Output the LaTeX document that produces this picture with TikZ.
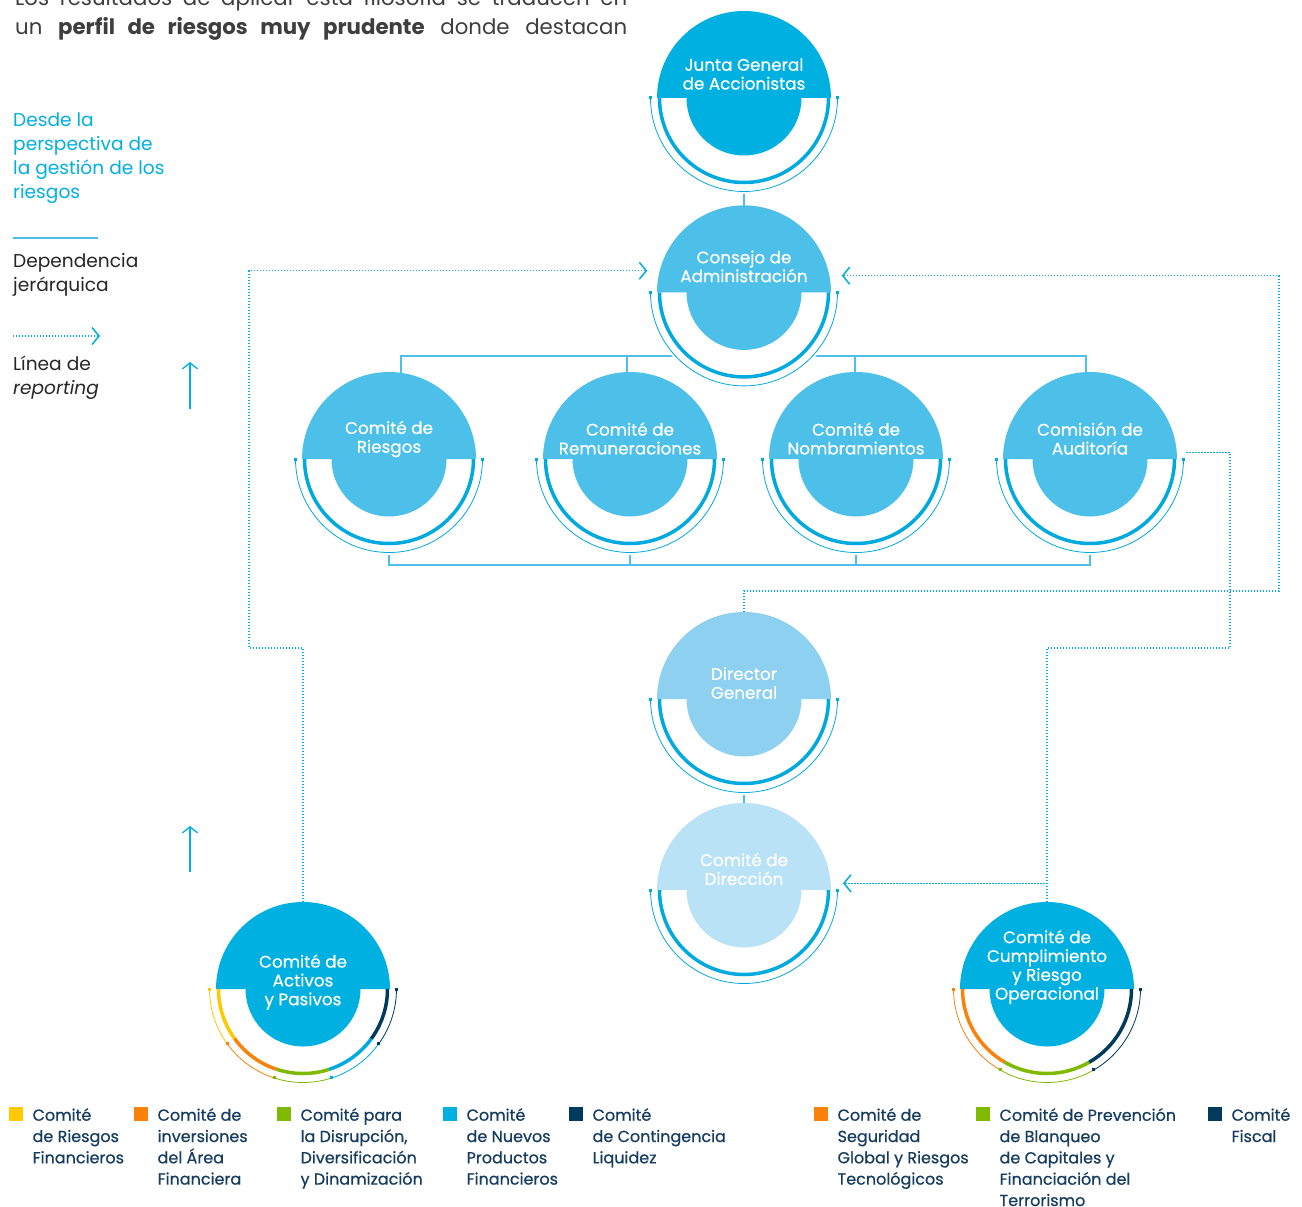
\documentclass[tikz,border=0pt]{standalone}
\usepackage{fontspec}
\setmainfont{Poppins}
\newfontfamily\poppinsmedio[FakeBold=0.6]{Poppins}
\usetikzlibrary{positioning,
	arrows.meta,
	backgrounds}

\definecolor{juntablue}{RGB}{0,176,224}
\definecolor{consejoblue}{RGB}{76,192,232}
\definecolor{directorblue}{RGB}{141,208,239}
\definecolor{direccionblue}{RGB}{185,226,246}
\definecolor{arcblue}{RGB}{0,170,222}
\definecolor{riskyellow}{RGB}{255,200,0}
\definecolor{riskorange}{RGB}{250,130,10}
\definecolor{riskgreen}{RGB}{128,186,0}
\definecolor{risknavy}{RGB}{0,58,92}
\definecolor{legendtext}{RGB}{22,60,95}
\definecolor{headgray}{RGB}{62,62,62}

% arcos inferiores de cada comite: paso angular y lista de colores
\newcommand{\arcoscolores}[2]{%
	\foreach \col [count=\i] in {#2}{%
		\pgfmathsetmacro{\aini}{180+#1*(\i-1)}%
		\pgfmathsetmacro{\afin}{180+#1*\i}%
		\draw[\col, line width=3.5pt] (\aini:84.5) arc[start angle=\aini, end angle=\afin, radius=84.5];
		\draw[\col, line width=0.8pt] (\aini:93.5) arc[start angle=\aini, end angle=\afin, radius=93.5];
		\fill[\col] (\aini:93.5) ++(-1.5,-1.5) rectangle ++(3,3);
		\fill[\col] (\afin:93.5) ++(-1.5,-1.5) rectangle ++(3,3);
	}%
}

\tikzset{
	comite/.style 2 args={circle, minimum size=192pt, inner sep=0pt,
		path picture={
			\begin{scope}[x=1pt, y=1pt, shift={(path picture bounding box.center)}]
				\fill[white] (-100,0) rectangle (100,-100);
				\fill[#1] (87,0) arc[start angle=0, end angle=180, radius=87] -- cycle;
				\fill[#1] (0,0) circle[radius=57.5];
				#2
			\end{scope}}},
	orgtexto/.style={text=white, align=center, inner sep=0pt, font=\poppinsmedio\fontsize{16.8}{18.8}\selectfont},
	jerarquia/.style={draw=consejoblue, line width=1.3pt},
	reporte/.style={draw=juntablue, line width=1.4pt, dash pattern=on 1.4pt off 1.6pt},
	flecha/.style={-{Straight Barb[length=7pt, width=17pt, line width=1.5pt]}},
	subida/.style={draw=juntablue, line width=1.3pt, -{Straight Barb[length=6pt, width=15pt]}},
	cabecera/.style={anchor=base west, inner sep=0pt, text=headgray, font=\fontsize{21.3}{25}\selectfont},
	leyizq/.style={anchor=north west, align=left, inner sep=0pt, font=\fontsize{18.6}{24}\selectfont},
	cuadro/.style={fill=#1, minimum size=14pt, inner sep=0pt, anchor=north west},
	leyenda/.style={anchor=north west, align=left, inner sep=0pt, yshift=-1pt, text=legendtext, font=\poppinsmedio\fontsize{16}{21.3}\selectfont},
}

\begin{document}
\begin{tikzpicture}[x=1pt, y=1pt]
	\useasboundingbox (0,0) rectangle (1302,-1207);

	% texto de cabecera (cortado arriba)
	\node[cabecera] (linea1) at (15,-6) {\makebox[612pt][s]{Los resultados de aplicar esta filosofía se traducen en}};
	\node[cabecera] (linea2) at (15,-35) {\makebox[612pt][s]{un \textbf{perfil de riesgos muy prudente} donde destacan}};

	% leyenda izquierda
	\node[leyizq, text=juntablue] (perspectiva) at (13,-113) {Desde la\\perspectiva de\\la gestión de los\\riesgos};
	\coordinate (dep a) at (13,-238);
	\coordinate (dep b) at (98,-238);
	\draw[jerarquia] (dep a) -- (dep b);
	\node[leyizq, text=black!85] (dependencia) at (13,-253) {Dependencia\\jerárquica};
	\coordinate (rep a) at (13,-336);
	\coordinate (rep b) at (100,-336);
	\draw[reporte, flecha] (rep a) -- (rep b);
	\node[leyizq, text=black!85] (reporting) at (13,-356) {Línea de\\\textit{reporting}};
	\coordinate (sube a) at (190,-409);
	\coordinate (sube b) at (190,-362);
	\coordinate (sube c) at (190,-872);
	\coordinate (sube d) at (190,-826);
	\draw[subida] (sube a) -- (sube b);
	\draw[subida] (sube c) -- (sube d);

	% organos
	\node[comite={juntablue}{\arcoscolores{180}{arcblue}},
		label={[orgtexto, yshift=24pt]center:{Junta General\\de Accionistas}}] (junta) at (744,-98) {};
	\node[comite={consejoblue}{\arcoscolores{180}{arcblue}}, below=2pt of junta,
		label={[orgtexto, yshift=26pt]center:{Consejo de\\Administración}}] (consejo) {};
	\node[comite={consejoblue}{\arcoscolores{180}{arcblue}},
		label={[orgtexto, yshift=20pt]center:{Comité de\\Riesgos}}] (riesgos) at (389,-459) {};
	\node[comite={consejoblue}{\arcoscolores{180}{arcblue}},
		label={[orgtexto, yshift=20.5pt]center:{Comité de\\Remuneraciones}}] (remuneraciones) at (630,-459) {};
	\node[comite={consejoblue}{\arcoscolores{180}{arcblue}},
		label={[orgtexto, yshift=20.5pt]center:{Comité de\\Nombramientos}}] (nombramientos) at (856,-459) {};
	\node[comite={consejoblue}{\arcoscolores{180}{arcblue}},
		label={[orgtexto, yshift=20.5pt]center:{Comisión de\\Auditoría}}] (auditoria) at (1090,-459) {};
	\node[comite={directorblue}{\arcoscolores{180}{arcblue}},
		label={[orgtexto, yshift=16pt]center:{Director\\General}}] (director) at (744,-699) {};
	\node[comite={direccionblue}{\arcoscolores{180}{arcblue}},
		label={[orgtexto, yshift=21pt]center:{Comité de\\Dirección}}] (direccion) at (744,-890) {};
	\node[comite={juntablue}{\arcoscolores{36}{riskyellow,riskorange,riskgreen,arcblue,risknavy}},
		label={[orgtexto, yshift=7pt]center:{Comité de\\Activos\\y Pasivos}}] (activos) at (303,-989) {};
	\node[comite={juntablue}{\arcoscolores{60}{riskorange,riskgreen,risknavy}},
		label={[orgtexto, yshift=22pt]center:{Comité de\\Cumplimiento\\y Riesgo\\Operacional}}] (cumplimiento) at (1047,-989) {};

	% conectores
	\begin{scope}[on background layer]
		\fill[white] (0,0) rectangle (1302,-1207);
		\coordinate (barra sup) at (744,-356);
		\coordinate (barra inf) at (744,-565);
		\draw[jerarquia] (junta.center) -- (consejo.center);
		\draw[jerarquia] (barra sup) -| ([xshift=12pt]riesgos.center);
		\draw[jerarquia] (barra sup) -| ([xshift=-3pt]remuneraciones.center);
		\draw[jerarquia] (barra sup) -| ([xshift=-1pt]nombramientos.center);
		\draw[jerarquia] (barra sup) -| ([xshift=-4pt]auditoria.center);
		\draw[jerarquia] (barra inf) -| (riesgos.center);
		\draw[jerarquia] (barra inf) -| (remuneraciones.center);
		\draw[jerarquia] (barra inf) -| (nombramientos.center);
		\draw[jerarquia] (barra inf) -| (auditoria.center);
		\draw[jerarquia] (director.center) -- (direccion.center);

		\coordinate (giro activos) at (249,-648);
		\coordinate (giro director) at (1279,-591);
		\coordinate (giro cumplimiento) at (1230,-648);
		\draw[reporte, flecha] (activos.center) |- (giro activos) |- ([xshift=-3pt]consejo.167);
		\draw[reporte, flecha] (director.center) |- (giro director) |- ([xshift=3pt]consejo.10);
		\draw[reporte] (cumplimiento.center) |- (giro cumplimiento) |- (auditoria.4);
		\draw[reporte, flecha] (cumplimiento.center) |- ([xshift=3pt]direccion.4);
	\end{scope}

	% leyenda inferior
	\node[cuadro=riskyellow] (sq1) at (9,-1107) {};
	\node[right=9pt of sq1.north east, leyenda] (ley1) {Comité\\de Riesgos\\Financieros};
	\node[cuadro=riskorange] (sq2) at (134,-1107) {};
	\node[right=9pt of sq2.north east, leyenda] (ley2) {Comité de\\inversiones\\del Área\\Financiera};
	\node[cuadro=riskgreen] (sq3) at (277,-1107) {};
	\node[right=9pt of sq3.north east, leyenda] (ley3) {Comité para\\la Disrupción,\\Diversificación\\y Dinamización};
	\node[cuadro=juntablue] (sq4) at (443,-1107) {};
	\node[right=9pt of sq4.north east, leyenda] (ley4) {Comité\\de Nuevos\\Productos\\Financieros};
	\node[cuadro=risknavy] (sq5) at (569,-1107) {};
	\node[right=9pt of sq5.north east, leyenda] (ley5) {Comité\\de Contingencia\\Liquidez};
	\node[cuadro=riskorange] (sq6) at (814,-1107) {};
	\node[right=9pt of sq6.north east, leyenda] (ley6) {Comité de\\Seguridad\\Global y Riesgos\\Tecnológicos};
	\node[cuadro=riskgreen] (sq7) at (976,-1107) {};
	\node[right=9pt of sq7.north east, leyenda] (ley7) {Comité de Prevención\\de Blanqueo\\de Capitales y\\Financiación del\\Terrorismo};
	\node[cuadro=risknavy] (sq8) at (1208,-1107) {};
	\node[right=9pt of sq8.north east, leyenda] (ley8) {Comité\\Fiscal};
\end{tikzpicture}
\end{document}
